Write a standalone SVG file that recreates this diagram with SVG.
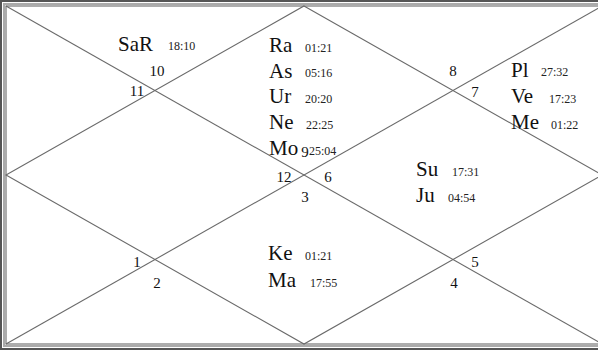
<svg xmlns="http://www.w3.org/2000/svg" width="598" height="350" viewBox="0 0 598 350">
<style>
.frame-o{fill:none;stroke:#555;stroke-width:2}
.frame-i{fill:none;stroke:#aaa;stroke-width:2}
.ln{fill:none;stroke:#6a6a6a;stroke-width:1.1}
.pl{font-family:"Liberation Serif","Times New Roman",serif;font-size:21px;fill:#111}
.dg{font-family:"Liberation Serif","Times New Roman",serif;font-size:12px;fill:#222}
.hn{font-family:"Liberation Serif","Times New Roman",serif;font-size:15px;fill:#111;text-anchor:middle}
</style>
<rect x="0" y="0" width="598" height="350" fill="#fff"/>
<rect class="frame-o" x="1" y="1" width="612" height="348"/>
<rect class="frame-i" x="4" y="4" width="604" height="342"/>
<g id="connectors">
<rect class="ln" x="6" y="6" width="600" height="338"/>
<line class="ln" x1="6" y1="6" x2="602" y2="344"/>
<line class="ln" x1="602" y1="6" x2="6" y2="344"/>
<polygon class="ln" points="304,6 602,175 304,344 6,175"/>
</g>
<g id="house10">
<text class="pl" x="118" y="51">SaR</text><text class="dg" x="168" y="50">18:10</text>
<text class="hn" x="157" y="76">10</text>
</g>
<g id="house11"><text class="hn" x="137" y="96">11</text></g>
<g id="house9">
<text class="pl" x="269" y="52">Ra</text><text class="dg" x="305" y="52">01:21</text>
<text class="pl" x="269" y="78">As</text><text class="dg" x="305" y="77">05:16</text>
<text class="pl" x="269" y="103">Ur</text><text class="dg" x="305" y="103">20:20</text>
<text class="pl" x="269" y="129">Ne</text><text class="dg" x="306" y="129">22:25</text>
<text class="pl" x="269" y="155">Mo</text><text class="hn" x="305" y="157">9</text><text class="dg" x="309" y="155">25:04</text>
</g>
<g id="house12"><text class="hn" x="284" y="182">12</text></g>
<g id="house3"><text class="hn" x="305" y="202">3</text></g>
<g id="house6">
<text class="hn" x="328" y="182">6</text>
<text class="pl" x="416" y="176">Su</text><text class="dg" x="452" y="176">17:31</text>
<text class="pl" x="416" y="202">Ju</text><text class="dg" x="448" y="202">04:54</text>
</g>
<g id="house8"><text class="hn" x="453" y="76">8</text></g>
<g id="house7">
<text class="hn" x="475" y="97">7</text>
<text class="pl" x="511" y="77">Pl</text><text class="dg" x="541" y="76">27:32</text>
<text class="pl" x="511" y="103">Ve</text><text class="dg" x="549" y="103">17:23</text>
<text class="pl" x="511" y="129">Me</text><text class="dg" x="551" y="129">01:22</text>
</g>
<g id="house1"><text class="hn" x="137" y="267">1</text></g>
<g id="house2"><text class="hn" x="157" y="288">2</text></g>
<g id="house4-3">
<text class="pl" x="268" y="260">Ke</text><text class="dg" x="305" y="260">01:21</text>
<text class="pl" x="268" y="287">Ma</text><text class="dg" x="310" y="287">17:55</text>
</g>
<g id="house5"><text class="hn" x="475" y="267">5</text></g>
<g id="house4"><text class="hn" x="454" y="288">4</text></g>
</svg>
